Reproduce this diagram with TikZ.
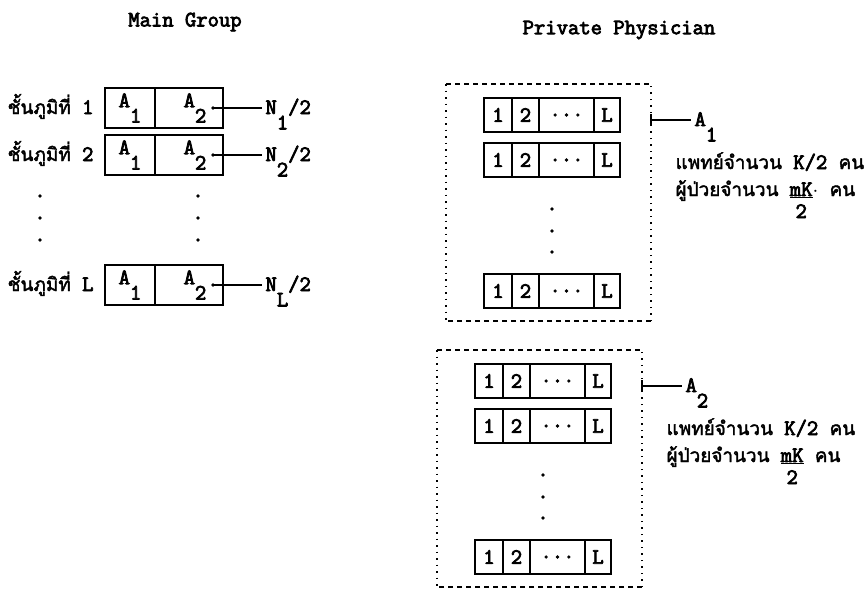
\documentclass[tikz,border=0pt]{standalone}
\usepackage{fontspec}
\setmainfont{Latin Modern Mono}[FakeBold=3.5]
\newfontfamily\thaifont[Script=Thai, Scale=0.86, FakeBold=2]{Loma}
\usepackage{tikz}
\usetikzlibrary{positioning, calc}

\newcommand{\lowr}[1]{\raisebox{-0.7em}{#1}}
\newcommand{\undfrac}[1]{\begin{tabular}[t]{@{}c@{}}\underline{#1}\\[-3pt]2\end{tabular}}

\begin{document}
\begin{tikzpicture}[x=1pt, y=-1pt,
    every node/.style={font=\fontsize{22}{25}\selectfont},
    grpcell/.style={draw, line width=1.2pt, outer sep=0pt, inner sep=0pt, minimum height=40pt},
    slotcell/.style={draw, line width=1.2pt, outer sep=0pt, inner sep=0pt, minimum height=34pt},
    vdot/.style={circle, fill, inner sep=0pt, minimum size=3.8pt},
    link/.style={line width=1.2pt},
    frameh/.style={line width=1.1pt, dash pattern=on 5pt off 4pt},
    framev/.style={line width=1.4pt, dash pattern=on 1.5pt off 5pt},
    node distance=0pt
]
    \useasboundingbox (0,0) rectangle (865,592);

    % Main Group
    \node (maingrp) at (185,22) {Main Group};
    \foreach \r/\y/\s in {1/108/1, 2/155/2, 3/285/L} {
        \node[grpcell, minimum width=50pt, anchor=west] (st\r a) at (105,\y) {A\lowr{1}\hspace{12pt}};
        \node[grpcell, minimum width=68pt, right=of st\r a] (st\r b) {\hspace{12pt}A\lowr{2}};
        \node[anchor=base east] (st\r lab) at (97,\y+6) {{\thaifont ชั้นภูมิที่} \s};
        \coordinate (st\r d) at (213,\y);
        \fill (st\r d) circle (1.8pt);
        \node[anchor=base west] (st\r n) at (262,\y+6) {N\lowr{\s}/2};
        \draw[link] (st\r d) -- (st\r d -| st\r n.west);
    }
    \foreach \yy [count=\i] in {196,218,240} {
        \node[vdot] (dl\i) at (40,\yy) {};
        \node[vdot] (dr\i) at (198,\yy) {};
    }

    % Private Physician
    \node (privphys) at (619,30) {Private Physician};
    \foreach \g/\gx/\gy/\dotmark in {1/446/84/$\cdot$, 2/437/350/{}} {
        \coordinate (fnw\g) at (\gx,\gy);
        \coordinate (fse\g) at (\gx+205,\gy+237);
        \draw[frameh] (fnw\g) -- (fnw\g -| fse\g);
        \draw[frameh] (fse\g) -- (fse\g -| fnw\g);
        \draw[framev] (fnw\g) -- (fnw\g |- fse\g);
        \draw[framev] (fse\g) -- (fse\g |- fnw\g);
        \foreach \r/\ry in {1/31, 2/76, 3/207} {
            \node[slotcell, minimum width=28pt, anchor=west] (g\g r\r c1) at (\gx+38,\gy+\ry) {1};
            \node[slotcell, minimum width=27pt, right=of g\g r\r c1] (g\g r\r c2) {2};
            \node[slotcell, minimum width=55pt, right=of g\g r\r c2] (g\g r\r c3) {...};
            \node[slotcell, minimum width=26pt, right=of g\g r\r c3] (g\g r\r c4) {L};
        }
        \foreach \dy [count=\i] in {125,147,168} {
            \node[vdot] (gd\g\i) at (\gx+106,\gy+\dy) {};
        }
        \coordinate (tk\g) at (\gx+205,\gy+36);
        \draw[link] (tk\g) ++(0,-6) -- ++(0,12);
        \node[anchor=base west] (a\g) at (\gx+245,\gy+42) {A\lowr{\g}};
        \draw[link] (tk\g) -- (tk\g -| a\g.west);
        \node[anchor=base west] (doc\g) at (\gx+226,\gy+85) {{\thaifont แพทย์จำนวน} K/2 {\thaifont คน}};
        \node[anchor=base west] (pat\g) at (\gx+226,\gy+112) {{\thaifont ผู้ป่วยจำนวน} \undfrac{mK}\dotmark{} {\thaifont คน}};
    }
\end{tikzpicture}
\end{document}
